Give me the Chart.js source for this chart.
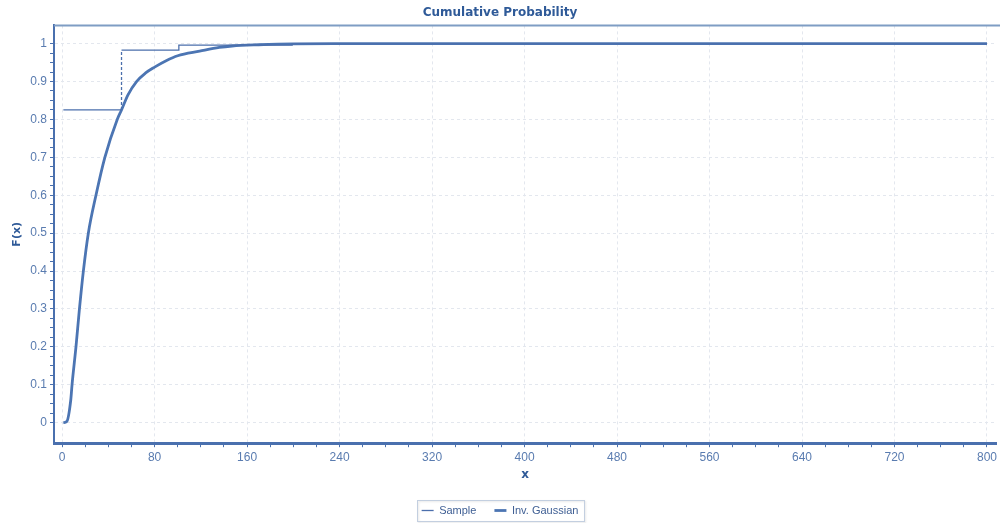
<!DOCTYPE html>
<html>
<head>
<meta charset="utf-8">
<script src="https://cdn.jsdelivr.net/npm/chart.js@4/dist/chart.umd.min.js"></script>
<style>
  html, body { margin: 0; padding: 0; background: #ffffff; overflow: hidden; }
  #wrap { width: 1000px; height: 523px; position: relative; }
</style>
</head>
<body>
<div id="wrap"><canvas id="cdf"></canvas></div>
<script>
// Empirical (sample) step function
const sampleX = [1.1, 51.4, 51.4, 101, 101, 199, 199, 800];
const sampleY = [0.825, 0.825, 0.983, 0.983, 0.996, 0.996, 1.0, 1.0];

// Fitted inverse Gaussian CDF
const gaussX = [1.1, 4, 7.5, 8.6, 12, 15, 18.4, 22.7, 29.3, 37, 47.7, 51.4, 57, 64.4, 72, 80, 90, 100, 119, 136, 147, 170, 200, 240, 800];
const gaussY = [0, 0.003, 0.06, 0.1, 0.2, 0.3, 0.4, 0.5, 0.6, 0.7, 0.8, 0.825, 0.865, 0.9, 0.922, 0.938, 0.955, 0.968, 0.98, 0.99, 0.9937, 0.997, 0.9995, 1.0, 1.0];

// Axis ticks
const xTickLabels = ['0', '80', '160', '240', '320', '400', '480', '560', '640', '720', '800'];
const xMinorStep = 20;
const yTickLabels = ['0', '0.1', '0.2', '0.3', '0.4', '0.5', '0.6', '0.7', '0.8', '0.9', '1'];
const yMinorStep = 0.025;

const AXIS_BLUE = '#4a70ae';
const TEXT_BLUE = '#5a7cb0';
const TITLE_BLUE = '#2f5a98';
const GRID = '#e3e7ee';

function toPoints(xs, ys) { return xs.map((x, i) => ({ x: x, y: ys[i] })); }

// Major ticks from the label lists, minor ticks in between
function buildTicks(labels, minorStep) {
  const majors = labels.map(Number);
  const out = [];
  for (let i = 0; i < majors.length; i++) {
    out.push({ value: majors[i], major: true, text: labels[i] });
    if (i < majors.length - 1) {
      const span = majors[i + 1] - majors[i];
      const n = Math.round(span / minorStep);
      for (let k = 1; k < n; k++) {
        out.push({ value: +(majors[i] + k * minorStep).toFixed(6), major: false, text: '' });
      }
    }
  }
  return out;
}

const gridColor = (ctx) => (ctx.tick && ctx.tick.major) ? GRID : 'rgba(0,0,0,0)';

// Top frame line of the plot area and a box around the legend
const framePlugin = {
  id: 'frame',
  afterDraw(chart) {
    const { ctx, chartArea } = chart;
    ctx.save();
    ctx.strokeStyle = '#7f9dc4';
    ctx.lineWidth = 2;
    ctx.beginPath();
    ctx.moveTo(chartArea.left, chartArea.top);
    ctx.lineTo(chart.width, chartArea.top);
    ctx.stroke();

    const boxes = chart.legend && chart.legend.legendHitBoxes;
    if (boxes && boxes.length) {
      let x0 = Infinity, x1 = -Infinity, y0 = Infinity, y1 = -Infinity;
      boxes.forEach(b => {
        x0 = Math.min(x0, b.left); x1 = Math.max(x1, b.left + b.width);
        y0 = Math.min(y0, b.top); y1 = Math.max(y1, b.top + b.height);
      });
      ctx.strokeStyle = '#c3cfe0';
      ctx.lineWidth = 1;
      ctx.shadowColor = 'rgba(0,0,0,0.12)';
      ctx.shadowOffsetX = 1;
      ctx.shadowOffsetY = 1;
      ctx.shadowBlur = 2;
      ctx.strokeRect(Math.round(x0 - 5) + 0.5, Math.round(y0 - 5) + 0.5, Math.round(x1 - x0 + 10), Math.round(y1 - y0 + 10));
    }
    ctx.restore();
  }
};

new Chart(document.getElementById('cdf'), {
  type: 'line',
  data: {
    datasets: [
      {
        label: 'Sample',
        data: toPoints(sampleX, sampleY),
        borderColor: '#4b6fac',
        backgroundColor: '#4b6fac',
        borderWidth: 1.3,
        pointRadius: 0,
        tension: 0,
        segment: {
          borderDash: (c) => (c.p0.parsed.x === c.p1.parsed.x && c.p1.parsed.y - c.p0.parsed.y > 0.05) ? [3, 2] : undefined
        }
      },
      {
        label: 'Inv. Gaussian',
        data: toPoints(gaussX, gaussY),
        borderColor: '#4c75b3',
        backgroundColor: '#4c75b3',
        borderWidth: 2.8,
        pointRadius: 0,
        cubicInterpolationMode: 'monotone'
      }
    ]
  },
  options: {
    responsive: true,
    maintainAspectRatio: false,
    animation: false,
    layout: { padding: { left: 0, right: 0, top: 0, bottom: -3 } },
    plugins: {
      title: {
        display: true,
        text: 'Cumulative Probability',
        color: TITLE_BLUE,
        font: { family: '"DejaVu Sans", Verdana, sans-serif', size: 12, weight: 'bold' },
        padding: { top: 6, bottom: 5 }
      },
      legend: {
        position: 'bottom',
        labels: {
          usePointStyle: true,
          pointStyle: 'line',
          pointStyleWidth: 12,
          color: '#3f5f94',
          font: { family: '"Liberation Sans", Arial, sans-serif', size: 11 },
          padding: 18
        }
      },
      tooltip: { enabled: false }
    },
    scales: {
      x: {
        type: 'linear',
        min: -7,
        max: 808,
        afterBuildTicks: (s) => { s.ticks = buildTicks(xTickLabels, xMinorStep); },
        ticks: {
          autoSkip: false,
          maxRotation: 0,
          padding: 3,
          color: TEXT_BLUE,
          font: { family: '"Liberation Sans", Arial, sans-serif', size: 12 },
          callback: (v, i, ticks) => ticks[i].text
        },
        grid: {
          color: gridColor,
          lineWidth: 1,
          tickLength: 4,
          tickColor: AXIS_BLUE,
          tickWidth: 1
        },
        border: { display: true, color: AXIS_BLUE, width: 3, dash: [3, 3] },
        title: {
          display: true,
          text: 'x',
          color: TITLE_BLUE,
          font: { family: '"DejaVu Sans", Verdana, sans-serif', size: 12, weight: 'bold' },
          padding: { top: 0, bottom: 5 }
        }
      },
      y: {
        type: 'linear',
        min: -0.054,
        max: 1.048,
        afterBuildTicks: (s) => { s.ticks = buildTicks(yTickLabels, yMinorStep); },
        afterFit: (s) => { s.width = 54; },
        ticks: {
          autoSkip: false,
          padding: 3,
          color: TEXT_BLUE,
          font: { family: '"Liberation Sans", Arial, sans-serif', size: 12 },
          callback: (v, i, ticks) => ticks[i].text
        },
        grid: {
          color: gridColor,
          lineWidth: 1,
          tickLength: 4,
          tickColor: AXIS_BLUE,
          tickWidth: 1
        },
        border: { display: true, color: AXIS_BLUE, width: 2, dash: [3, 3] },
        title: {
          display: true,
          text: 'F(x)',
          color: TITLE_BLUE,
          font: { family: '"DejaVu Sans", Verdana, sans-serif', size: 11, weight: 'bold' },
          padding: { top: 11, bottom: 0 }
        }
      }
    }
  },
  plugins: [framePlugin]
});
</script>
</body>
</html>
